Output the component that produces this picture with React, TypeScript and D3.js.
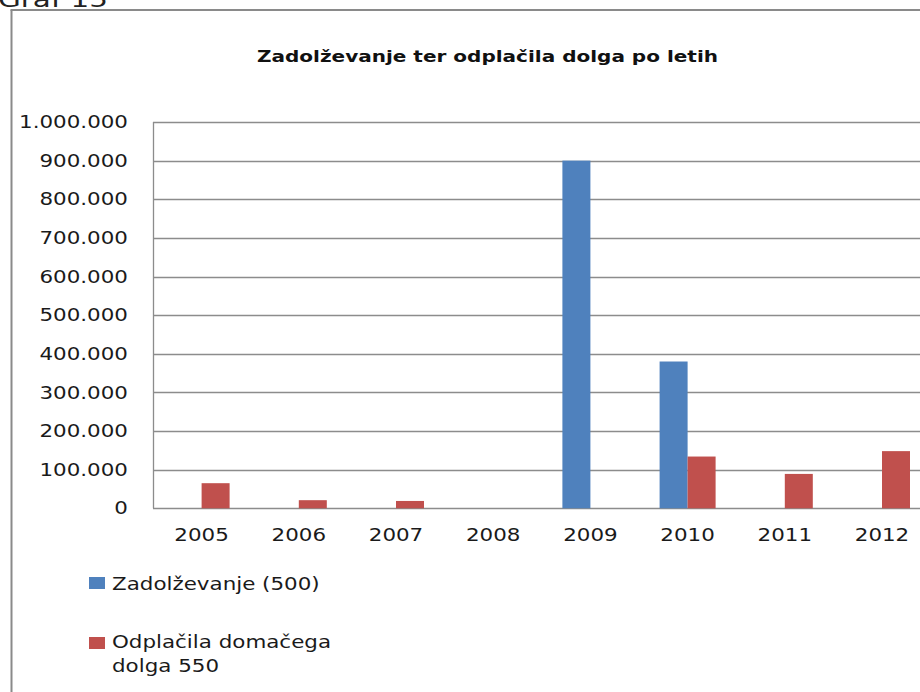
import React from "react";
import * as d3 from "d3";

const years = ["2005", "2006", "2007", "2008", "2009", "2010", "2011", "2012"];
const zadolzevanje = [0, 0, 0, 0, 900000, 380000, 0, 0];
const odplacila = [65000, 21000, 19000, 0, 0, 134000, 89000, 148000];
const yTicks = [0, 100000, 200000, 300000, 400000, 500000, 600000, 700000, 800000, 900000, 1000000];
const seriesNames = ["Zadolževanje (500)", "Odplačila domačega dolga 550"];
const colors = ["#4F81BD", "#C0504D"];

const fmt = (v: number) => (v === 0 ? "0" : d3.format(",")(v).replace(/,/g, "."));

export default function App() {
  const W = 920, H = 692;
  const left = 153, right = 930.6, top = 122, bottom = 508.3;
  const x = d3.scaleBand<string>().domain(years).range([left, right]).padding(0);
  const y = d3.scaleLinear().domain([0, 1000000]).range([bottom, top]);
  const barW = 28;
  const inner = d3.scaleBand<number>().domain([0, 1]).range([0, barW * 2]).padding(0);
  const series = [zadolzevanje, odplacila];
  const font = "'DejaVu Sans', Verdana, sans-serif";
  const sx = 1.26;
  const txt = "#1a1a1a";

  return (
    <svg width={W} height={H} style={{ position: "absolute", left: 0, top: 0, background: "#fff" }} fontFamily={font}>
      <rect x={0} y={0} width={W} height={H} fill="#fff" />
      <text x={-2} y={7} fontSize={22} fill="#222" textLength={110} lengthAdjust="spacingAndGlyphs">Graf 15</text>
      {/* outer frame */}
      <line x1={11.5} y1={10} x2={11.5} y2={H} stroke="#8a8a8a" strokeWidth={2} />
      <line x1={10.5} y1={10} x2={W} y2={10} stroke="#8a8a8a" strokeWidth={2} />
      {/* title */}
      <text x={257} y={62} fontSize={16.5} fontWeight="bold" fill="#111" textLength={461} lengthAdjust="spacingAndGlyphs">
        Zadolževanje ter odplačila dolga po letih
      </text>
      {/* gridlines */}
      {yTicks.map((t) => (
        <line key={t} x1={left} x2={W} y1={Math.round(y(t)) + 0.5} y2={Math.round(y(t)) + 0.5} stroke="#8c8c8c" strokeWidth={1.3} />
      ))}
      <line x1={left + 0.5} x2={left + 0.5} y1={top} y2={bottom} stroke="#8c8c8c" strokeWidth={1.3} />
      {/* y labels */}
      {yTicks.map((t) => (
        <text key={t} transform={`translate(128,${y(t)}) scale(${sx},1)`} textAnchor="end" dy="0.36em" fontSize={17} fill={txt}>
          {fmt(t)}
        </text>
      ))}
      {/* bars */}
      {years.map((yr, i) => {
        const c = (x(yr) as number) + x.bandwidth() / 2 - barW;
        return series.map((s, j) =>
          s[i] > 0 ? (
            <rect key={yr + j} x={c + (inner(j) as number)} y={y(s[i])} width={inner.bandwidth()} height={bottom - y(s[i])} fill={colors[j]} />
          ) : null
        );
      })}
      {/* x labels */}
      {years.map((yr) => (
        <text key={yr} transform={`translate(${(x(yr) as number) + x.bandwidth() / 2},541) scale(${sx},1)`} textAnchor="middle" fontSize={17} fill={txt}>
          {yr}
        </text>
      ))}
      {/* legend */}
      <rect x={89} y={577} width={16} height={12} fill={colors[0]} />
      <text transform={`translate(112,590) scale(${sx},1)`} fontSize={17} fill={txt}>{seriesNames[0]}</text>
      <rect x={89} y={637} width={16} height={12} fill={colors[1]} />
      <text transform={`translate(112,648) scale(${sx},1)`} fontSize={17} fill={txt}>Odplačila domačega</text>
      <text transform={`translate(112,672) scale(${sx},1)`} fontSize={17} fill={txt}>dolga 550</text>
    </svg>
  );
}
